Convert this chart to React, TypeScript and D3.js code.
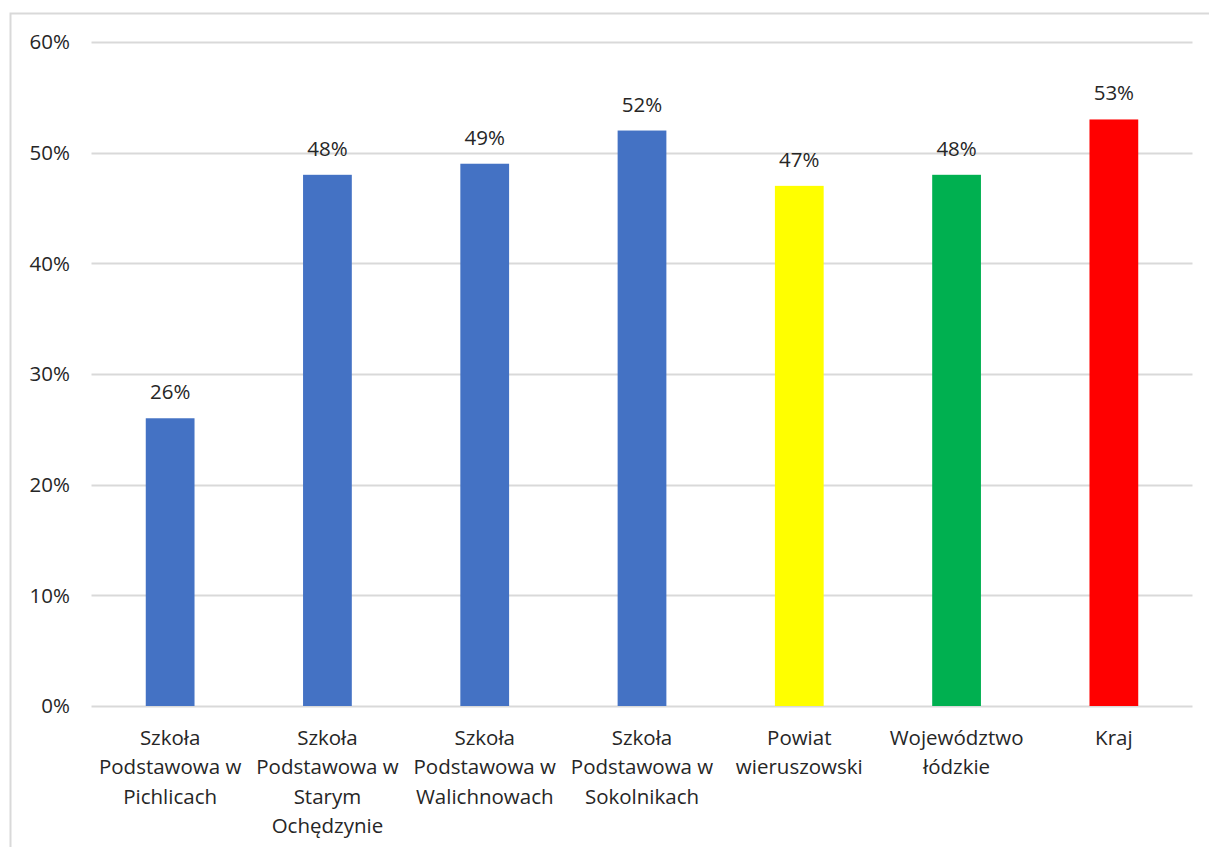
import React from "react";
import * as d3 from "d3";

const categories: string[][] = [
  ["Szkoła", "Podstawowa w", "Pichlicach"],
  ["Szkoła", "Podstawowa w", "Starym", "Ochędzynie"],
  ["Szkoła", "Podstawowa w", "Walichnowach"],
  ["Szkoła", "Podstawowa w", "Sokolnikach"],
  ["Powiat", "wieruszowski"],
  ["Województwo", "łódzkie"],
  ["Kraj"],
];
const values = [0.26, 0.48, 0.49, 0.52, 0.47, 0.48, 0.53];
const colors = ["#4472C4", "#4472C4", "#4472C4", "#4472C4", "#FFFF00", "#00B050", "#FF0000"];
const yTicks = [0, 0.1, 0.2, 0.3, 0.4, 0.5, 0.6];

export default function App() {
  const W = 1209, H = 847;
  const left = 91.5, right = 1192.5, top = 42, bottom = 706;
  const x = d3.scaleBand<number>().domain(d3.range(values.length)).range([left, right]).paddingInner(0.69).paddingOuter(0.345);
  const y = d3.scaleLinear().domain([0, 0.6]).range([bottom, top]);
  const fmt = d3.format(".0%");
  const font = "'Open Sans', Lato, sans-serif";
  const txt = "#262626";
  const fs = 20.5;
  return (
    <svg width={W} height={H} style={{ position: "absolute", left: 0, top: 0, background: "#fff" }} fontFamily={font}>
      <rect x={10.5} y={13.5} width={W + 20} height={H + 20} fill="#fff" stroke="#D9D9D9" strokeWidth={2} />
      {yTicks.map((t) => (
        <g key={t}>
          <line x1={left} x2={right} y1={Math.round(y(t)) + 0.5} y2={Math.round(y(t)) + 0.5} stroke="#D9D9D9" strokeWidth={2} />
          <text x={70} y={y(t)} dy="0.35em" textAnchor="end" fontSize={fs} fill={txt}>{fmt(t)}</text>
        </g>
      ))}
      {values.map((v, i) => (
        <g key={i}>
          <rect x={x(i)} y={y(v)} width={x.bandwidth()} height={bottom - y(v)} fill={colors[i]} />
          <text x={x(i)! + x.bandwidth() / 2} y={y(v) - 19} textAnchor="middle" fontSize={fs} fill={txt}>{fmt(v)}</text>
          {categories[i].map((line, j) => (
            <text key={j} x={x(i)! + x.bandwidth() / 2} y={738 + j * 29.3} dy="0.35em" textAnchor="middle" fontSize={fs} fill={txt}>{line}</text>
          ))}
        </g>
      ))}
    </svg>
  );
}
